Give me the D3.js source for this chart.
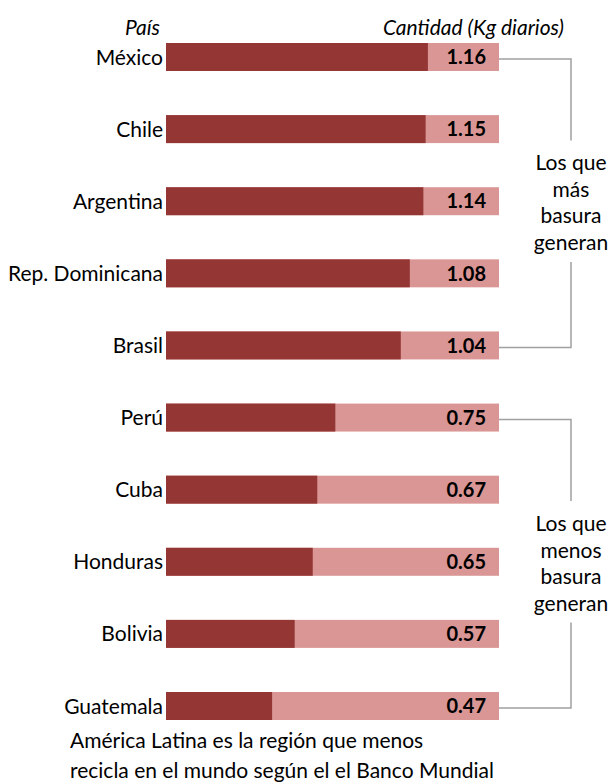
<!DOCTYPE html>
<html>
<head>
<meta charset="utf-8">
<script src="https://cdn.jsdelivr.net/npm/d3@7"></script>
<style>
  html, body { margin: 0; padding: 0; background: #ffffff; }
  svg { display: block; }
  text { font-family: Lato, "Open Sans", sans-serif; fill: #000; }
</style>
</head>
<body>
<div id="chart"></div>
<script>
// ---- data ----
const countries = ["México", "Chile", "Argentina", "Rep. Dominicana", "Brasil",
                   "Perú", "Cuba", "Honduras", "Bolivia", "Guatemala"];
const values = [1.16, 1.15, 1.14, 1.08, 1.04, 0.75, 0.67, 0.65, 0.57, 0.47];
const valueLabels = ["1.16", "1.15", "1.14", "1.08", "1.04", "0.75", "0.67", "0.65", "0.57", "0.47"];
const headerLeft = "País";
const headerRight = "Cantidad (Kg diarios)";
const groups = [
  { from: "México", to: "Brasil", lines: ["Los que", "más", "basura", "generan"] },
  { from: "Perú", to: "Guatemala", lines: ["Los que", "menos", "basura", "generan"] }
];
const footnote = ["América Latina es la región que menos",
                  "recicla en el mundo según el el Banco Mundial"];

// ---- layout ----
const W = 609, H = 782;
const svg = d3.select("#chart").append("svg").attr("width", W).attr("height", H);

const xMax = 1.475;
const x = d3.scaleLinear().domain([0, xMax]).range([166, 499]);
const y = d3.scaleBand().domain(countries).range([43, 720]).paddingInner(0.612).paddingOuter(0);

const dark = "#943634", light = "#D99694", gray = "#a0a0a0";
const fs = 21;

// headers
svg.append("text").attr("x", 160).attr("y", 35).attr("text-anchor", "end")
  .attr("font-style", "italic").attr("font-size", fs).text(headerLeft);
svg.append("text").attr("x", 564).attr("y", 35).attr("text-anchor", "end")
  .attr("font-style", "italic").attr("font-size", fs).text(headerRight);

const data = countries.map((c, i) => ({ c, v: values[i], l: valueLabels[i] }));

const rows = svg.append("g").selectAll("g").data(data).join("g");

rows.append("rect")
  .attr("x", x(0)).attr("y", d => y(d.c))
  .attr("width", x(xMax) - x(0)).attr("height", y.bandwidth())
  .attr("fill", light);

rows.append("rect")
  .attr("x", x(0)).attr("y", d => y(d.c))
  .attr("width", d => x(d.v) - x(0)).attr("height", y.bandwidth())
  .attr("fill", dark);

rows.append("text")
  .attr("x", x(0) - 3).attr("y", d => y(d.c) + y.bandwidth() / 2)
  .attr("dy", "0.36em").attr("text-anchor", "end").attr("font-size", fs)
  .text(d => d.c);

rows.append("text")
  .attr("x", 486).attr("y", d => y(d.c) + y.bandwidth() / 2)
  .attr("dy", "0.36em").attr("text-anchor", "end").attr("font-size", 20)
  .attr("font-weight", "bold")
  .text(d => d.l);

// brackets
const bx = 571, lh = 26.5;
groups.forEach(g => {
  const y1 = y(g.from) + y.bandwidth() / 2 + 2;
  const y2 = y(g.to) + y.bandwidth() / 2 + 2;
  const mid = (y1 + y2) / 2;
  const firstBase = mid - 1.5 * lh + 7;
  const lastBase = firstBase + 3 * lh;
  const gapTop = firstBase - 30;
  const gapBot = lastBase + 12;
  svg.append("path")
    .attr("d", `M${x(xMax)},${y1}H${bx}V${gapTop}`)
    .attr("fill", "none").attr("stroke", gray).attr("stroke-width", 1.5);
  svg.append("path")
    .attr("d", `M${bx},${gapBot}V${y2}H${x(xMax)}`)
    .attr("fill", "none").attr("stroke", gray).attr("stroke-width", 1.5);
  const t = svg.append("text").attr("text-anchor", "middle").attr("font-size", fs);
  g.lines.forEach((ln, i) => {
    t.append("tspan").attr("x", bx).attr("y", firstBase + i * lh).text(ln);
  });
});

// footnote
const ft = svg.append("text").attr("font-size", fs);
footnote.forEach((ln, i) => {
  ft.append("tspan").attr("x", 70).attr("y", 748 + i * 30).text(ln);
});
</script>
</body>
</html>
